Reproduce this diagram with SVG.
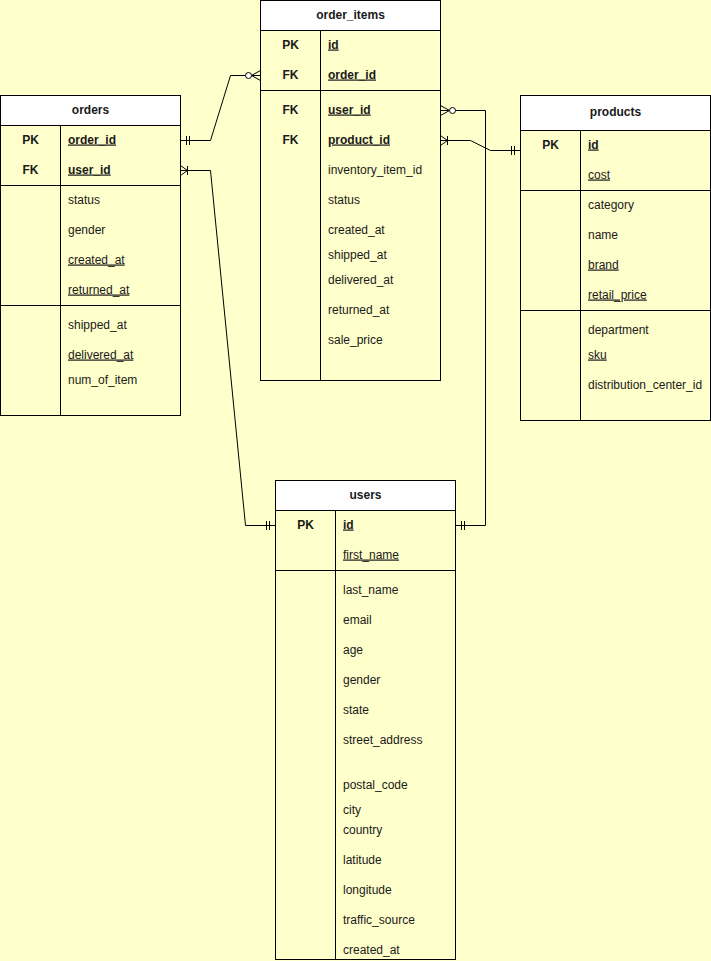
<svg xmlns="http://www.w3.org/2000/svg" width="711" height="961" viewBox="0 0 711 961">
<style>
  .tbl{fill:#FFFFCC;stroke:#000;stroke-width:1}
  .hdr{fill:#FFFFFF;stroke:#000;stroke-width:1}
  .ln{stroke:#000;stroke-width:1;fill:none}
  text{font-family:"Liberation Sans",Arial,Helvetica,sans-serif;font-size:12px;fill:#1a1a1a}
  .h{font-weight:bold;text-anchor:middle}
  .k{font-weight:bold;text-anchor:middle}
  .pk{font-weight:bold;text-decoration:underline}
  .u{text-decoration:underline}
  .conn{stroke:#000;stroke-width:1;fill:none}
  .mk{stroke:#000;stroke-width:1;fill:none}
</style>
<defs>
  <marker id="mandOne" markerUnits="userSpaceOnUse" markerWidth="20" markerHeight="20" refX="0" refY="0" orient="auto-start-reverse" overflow="visible">
    <path class="mk" d="M-6,-4.5 V4.5 M-9,-4.5 V4.5"/>
  </marker>
  <marker id="zeroMany" markerUnits="userSpaceOnUse" markerWidth="20" markerHeight="20" refX="0" refY="0" orient="auto-start-reverse" overflow="visible">
    <path class="mk" d="M0,-5 L-9,0 L0,5 M0,0 H-9"/>
    <circle cx="-12" cy="0" r="3" fill="#FFFFFF" stroke="#000" stroke-width="1"/>
  </marker>
  <marker id="oneMany" markerUnits="userSpaceOnUse" markerWidth="20" markerHeight="20" refX="0" refY="0" orient="auto-start-reverse" overflow="visible">
    <path class="mk" d="M0,-5 L-7,0 L0,5 M0,0 H-7 M-7,-4.5 V4.5"/>
  </marker>
</defs>
<rect x="0" y="0" width="711" height="961" fill="#FFFFCC"/>

<g id="connectors">
  <path class="conn" d="M180.5,140.5 H210.5 L230.5,75.5 H260.5" marker-start="url(#mandOne)" marker-end="url(#zeroMany)"/>
  <path class="conn" d="M180.5,170.5 H210.5 L245.5,525.5 H275.5" marker-start="url(#oneMany)" marker-end="url(#mandOne)"/>
  <path class="conn" d="M440.5,110.5 H485.5 V525.5 H455.5" marker-start="url(#zeroMany)" marker-end="url(#mandOne)"/>
  <path class="conn" d="M440.5,140.5 H470.5 L490.5,150.5 H520.5" marker-start="url(#oneMany)" marker-end="url(#mandOne)"/>
</g>

<g id="orders">
  <rect class="tbl" x="0.5" y="95.5" width="180" height="320"/>
  <rect class="hdr" x="0.5" y="95.5" width="180" height="30"/>
  <path class="ln" d="M0.5,185.5 H180.5 M0.5,305.5 H180.5 M60.5,125.5 V415.5"/>
  <text class="h" x="90.5" y="113.5">orders</text>
  <text class="k" x="30.5" y="143.5">PK</text>
  <text class="pk" x="68" y="143.5">order_id</text>
  <text class="k" x="30.5" y="173.5">FK</text>
  <text class="pk" x="68" y="173.5">user_id</text>
  <text x="68" y="203.5">status</text>
  <text x="68" y="233.5">gender</text>
  <text class="u" x="68" y="263.5">created_at</text>
  <text class="u" x="68" y="293.5">returned_at</text>
  <text x="68" y="328.5">shipped_at</text>
  <text class="u" x="68" y="358.5">delivered_at</text>
  <text x="68" y="383.5">num_of_item</text>
</g>

<g id="order_items">
  <rect class="tbl" x="260.5" y="0.5" width="180" height="380"/>
  <rect class="hdr" x="260.5" y="0.5" width="180" height="30"/>
  <path class="ln" d="M260.5,90.5 H440.5 M320.5,30.5 V380.5"/>
  <text class="h" x="350.5" y="18.5">order_items</text>
  <text class="k" x="290.5" y="48.5">PK</text>
  <text class="pk" x="328" y="48.5">id</text>
  <text class="k" x="290.5" y="78.5">FK</text>
  <text class="pk" x="328" y="78.5">order_id</text>
  <text class="k" x="290.5" y="113.5">FK</text>
  <text class="pk" x="328" y="113.5">user_id</text>
  <text class="k" x="290.5" y="143.5">FK</text>
  <text class="pk" x="328" y="143.5">product_id</text>
  <text x="328" y="173.5">inventory_item_id</text>
  <text x="328" y="203.5">status</text>
  <text x="328" y="233.5">created_at</text>
  <text x="328" y="258.5">shipped_at</text>
  <text x="328" y="283.5">delivered_at</text>
  <text x="328" y="313.5">returned_at</text>
  <text x="328" y="343.5">sale_price</text>
</g>

<g id="products">
  <rect class="tbl" x="520.5" y="95.5" width="190" height="325"/>
  <rect class="hdr" x="520.5" y="95.5" width="190" height="35"/>
  <path class="ln" d="M520.5,190.5 H710.5 M520.5,310.5 H710.5 M580.5,130.5 V420.5"/>
  <text class="h" x="615.5" y="116">products</text>
  <text class="k" x="550.5" y="148.5">PK</text>
  <text class="pk" x="588" y="148.5">id</text>
  <text class="u" x="588" y="178.5">cost</text>
  <text x="588" y="208.5">category</text>
  <text x="588" y="238.5">name</text>
  <text class="u" x="588" y="268.5">brand</text>
  <text class="u" x="588" y="298.5">retail_price</text>
  <text x="588" y="333.5">department</text>
  <text class="u" x="588" y="358.5">sku</text>
  <text x="588" y="388.5">distribution_center_id</text>
</g>

<g id="users">
  <rect class="tbl" x="275.5" y="480.5" width="180" height="479"/>
  <rect class="hdr" x="275.5" y="480.5" width="180" height="30"/>
  <path class="ln" d="M275.5,570.5 H455.5 M335.5,510.5 V959.5"/>
  <text class="h" x="365.5" y="498.5">users</text>
  <text class="k" x="305.5" y="528.5">PK</text>
  <text class="pk" x="343" y="528.5">id</text>
  <text class="u" x="343" y="558.5">first_name</text>
  <text x="343" y="593.5">last_name</text>
  <text x="343" y="623.5">email</text>
  <text x="343" y="653.5">age</text>
  <text x="343" y="683.5">gender</text>
  <text x="343" y="713.5">state</text>
  <text x="343" y="743.5">street_address</text>
  <text x="343" y="788.5">postal_code</text>
  <text x="343" y="813.5">city</text>
  <text x="343" y="833.5">country</text>
  <text x="343" y="863.5">latitude</text>
  <text x="343" y="893.5">longitude</text>
  <text x="343" y="923.5">traffic_source</text>
  <text x="343" y="953.5">created_at</text>
</g>
</svg>
